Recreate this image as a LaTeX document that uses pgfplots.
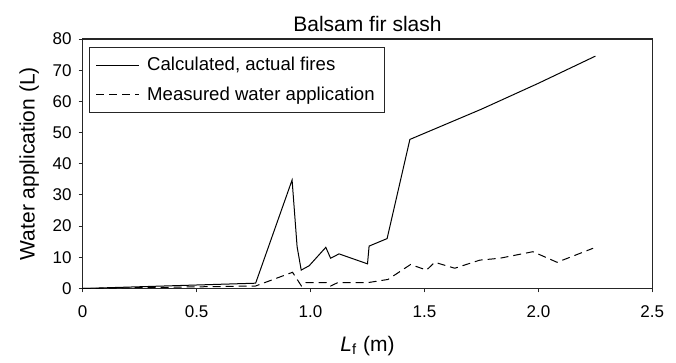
\documentclass[border=0pt]{standalone}
\usepackage{pgfplots}
\pgfplotsset{compat=1.18}
\usepackage{fontspec}
\setmainfont{Liberation Sans}
\begin{document}
\begin{tikzpicture}
\begin{axis}[
  scale only axis,
  width=284.8pt, height=124.75pt,
  xmin=0, xmax=2.5, ymin=0, ymax=80,
  xtick={0,0.5,1,1.5,2,2.5},
  xticklabels={0,0.5,1.0,1.5,2.0,2.5},
  ytick={0,10,...,80},
  tick align=outside,
  xtick pos=bottom, ytick pos=left,
  major tick length=2pt,
  axis line style={line width=0.6pt, black!85},
  tick style={line width=0.5pt, black!85},
  /pgf/number format/assume math mode=true,
  ticklabel style={font=\fontsize{8.5}{10}\selectfont},
  xticklabel style={yshift=-3pt},
  title={Balsam fir slash},
  title style={font=\fontsize{10.5}{12}\selectfont, yshift=-6pt},
  xlabel={\textit{L}\textsubscript{f} (m)},
  ylabel={Water application (L)},
  label style={font=\fontsize{10.5}{12}\selectfont},
  xlabel style={yshift=-2.5pt},
  ylabel style={yshift=0pt},
  legend style={at={(rel axis cs:0,1)}, anchor=north west, xshift=3.2pt, yshift=-3.9pt,
    draw=black!85, line width=0.5pt, font=\fontsize{9.3}{11}\selectfont,
    inner xsep=3pt, inner ysep=2.8pt, row sep=2.6pt, cells={anchor=west},
    /tikz/every odd column/.append style={column sep=1.8pt}},
  legend image code/.code={\draw[#1] (0pt,0pt) -- (21.5pt,0pt);},
]
\addplot[black, line width=0.5pt] coordinates {
(0,0) (0.759,1.7) (0.919,34.8) (0.941,13.4) (0.959,5.9) (0.994,7.3) (1.067,13.2) (1.088,9.7) (1.125,11.1) (1.25,7.9) (1.257,13.6) (1.336,16.0) (1.436,47.8) (1.75,57.5) (2.0,65.8) (2.25,74.5)
};
\addlegendentry{Calculated, actual fires}
\addplot[black, line width=0.5pt, dash pattern=on 4pt off 2.5pt] coordinates {
(0,0) (0.759,0.8) (0.921,5.2) (0.96,0.8) (0.98,1.9) (1.07,1.9) (1.088,0.8) (1.12,1.9) (1.253,1.9) (1.34,2.9) (1.439,7.7) (1.509,5.9) (1.545,8.4) (1.633,6.5) (1.743,9.1) (1.831,9.7) (1.976,11.8) (2.082,8.4) (2.24,12.9)
};
\addlegendentry{Measured water application}
\end{axis}
\path ([shift={(-41.35pt,-31.75pt)}]current axis.south west) rectangle ([shift={(11.85pt,19.5pt)}]current axis.north east);
\end{tikzpicture}
\end{document}
